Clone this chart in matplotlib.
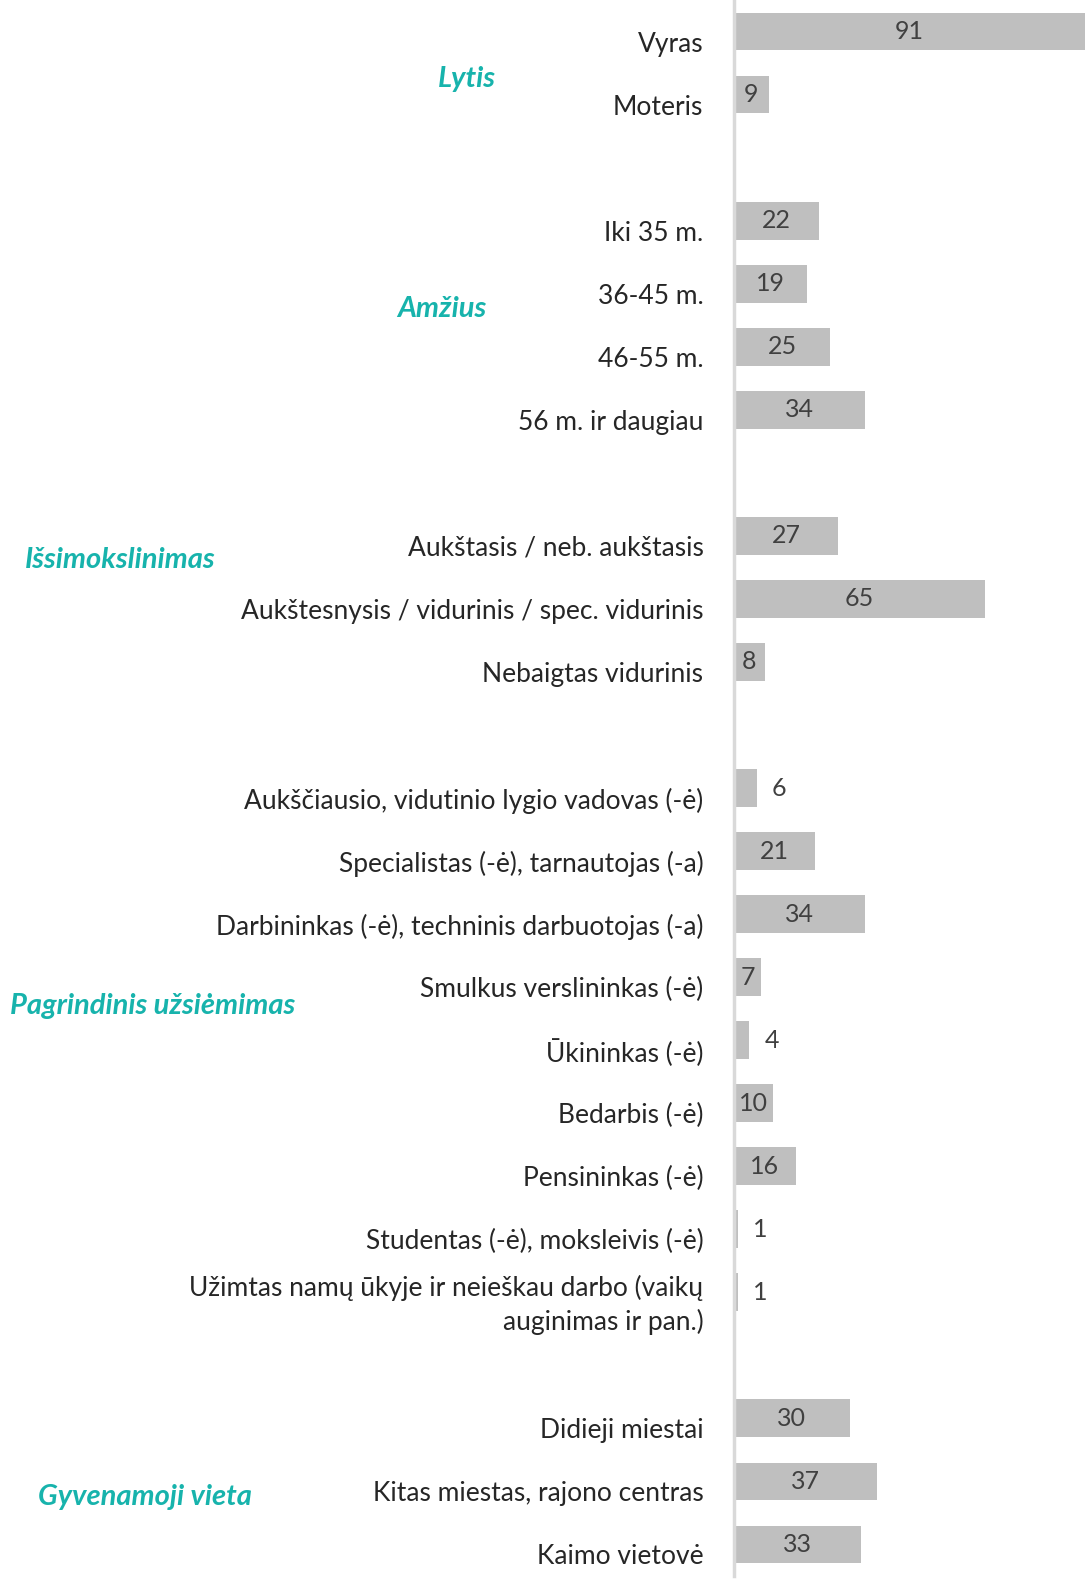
import matplotlib.pyplot as plt

plt.rcParams['font.family'] = ['Lato', 'DejaVu Sans']

labels = [
    'Vyras', 'Moteris', None,
    'Iki 35 m.', '36-45 m.', '46-55 m.', '56 m. ir daugiau', None,
    'Aukštasis / neb. aukštasis', 'Aukštesnysis / vidurinis / spec. vidurinis',
    'Nebaigtas vidurinis', None,
    'Aukščiausio, vidutinio lygio vadovas (-ė)', 'Specialistas (-ė), tarnautojas (-a)',
    'Darbininkas (-ė), techninis darbuotojas (-a)', 'Smulkus verslininkas (-ė)',
    'Ūkininkas (-ė)', 'Bedarbis (-ė)', 'Pensininkas (-ė)', 'Studentas (-ė), moksleivis (-ė)',
    'Užimtas namų ūkyje ir neieškau darbo (vaikų\nauginimas ir pan.)', None,
    'Didieji miestai', 'Kitas miestas, rajono centras', 'Kaimo vietovė',
]
values = [91, 9, None,
          22, 19, 25, 34, None,
          27, 65, 8, None,
          6, 21, 34, 7, 4, 10, 16, 1, 1, None,
          30, 37, 33]

groups = ['Lytis', 'Amžius', 'Išsimokslinimas', 'Pagrindinis užsiėmimas', 'Gyvenamoji vieta']
# (x px, y px, ha) in figure pixels
group_pos = [(467, 79, 'center'), (442, 309, 'center'), (25, 560, 'left'),
             (10, 1006, 'left'), (38, 1497, 'left')]

W, H = 1085, 1583
fig = plt.figure(figsize=(W / 100, H / 100), dpi=100)
ax = fig.add_axes([734 / W, 7 / H, 1 - 734 / W, 1 - 7 / H])

bar_color = '#bfbfbf'
text_color = '#404040'
teal = '#17b3ac'

for i, (lab, v) in enumerate(zip(labels, values)):
    if v is None:
        continue
    ax.barh(i, v, height=0.6, color=bar_color, left=0)
    if v >= 7:
        ax.text(v / 2, i, str(v), ha='center', va='center', fontsize=18, color=text_color)
    else:
        ax.annotate(str(v), (v, i), xytext=(16, 0), textcoords='offset points',
                    ha='center', va='center', fontsize=18, color=text_color)
    ax.annotate(lab, (0, i), xycoords=('axes fraction', 'data'), xytext=(-22, -9),
                textcoords='offset points', ha='right', va='center', fontsize=19,
                color='#262626', linespacing=1.35)

ax.set_ylim(len(values) - 0.5, -0.5)
ax.set_xlim(0, 91)
ax.set_xticks([])
ax.set_yticks([])
for s in ['top', 'right', 'bottom']:
    ax.spines[s].set_visible(False)
ax.spines['left'].set_color('#d9d9d9')
ax.spines['left'].set_linewidth(2.5)

for g, (x, y, ha) in zip(groups, group_pos):
    fig.text(x / W, 1 - y / H, g, ha=ha, va='center', fontsize=21, color=teal,
             fontweight='bold', fontstyle='italic')

fig.savefig('out.png', dpi=100)
